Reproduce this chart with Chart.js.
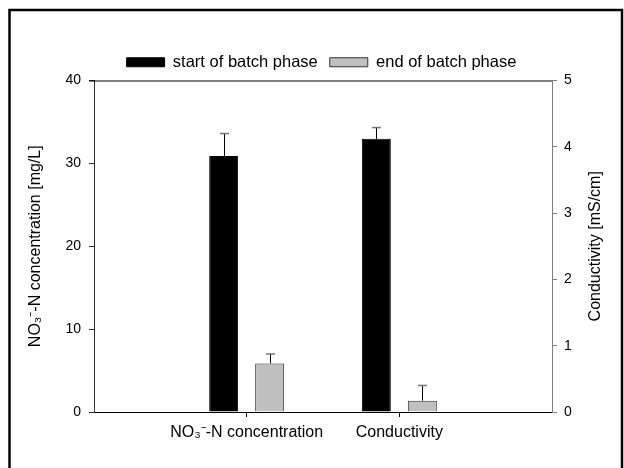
<!DOCTYPE html>
<html>
<head>
<meta charset="utf-8">
<script src="https://cdn.jsdelivr.net/npm/chart.js@4.4.1/dist/chart.umd.min.js"></script>
<style>
  html, body { margin: 0; padding: 0; background: #fff; }
  #wrap { width: 624px; height: 468px; }
</style>
</head>
<body>
<div id="wrap"><canvas id="chart" width="624" height="468"></canvas></div>
<script>
// categories (empty ends keep the two groups in the middle third)
const categories = ['', 'NO₃⁻-N concentration', 'Conductivity', ''];
const seriesNames = ['start of batch phase', 'end of batch phase'];

// NO3-N concentration [mg/L] -> left axis
const no3Start = [null, 30.9, null, null];
const no3End = [null, 5.85, null, null];
const no3StartErr = [null, 2.7, null, null];
const no3EndErr = [null, 1.15, null, null];

// conductivity [mS/cm] -> right axis
const condStart = [null, null, 4.12, null];
const condEnd = [null, null, 0.17, null];
const condStartErr = [null, null, 0.17, null];
const condEndErr = [null, null, 0.23, null];

const leftTicks = [0, 10, 20, 30, 40];
const rightTicks = [0, 1, 2, 3, 4, 5];
const rightTitle = 'Conductivity [mS/cm]';

const FONT = 'Liberation Sans, Arial, sans-serif';
Chart.defaults.font.family = FONT;
Chart.defaults.color = '#000';

// outer frame, top line of the plot box, right axis title (reads bottom-to-top)
const framePlugin = {
  id: 'frame',
  afterDraw(chart) {
    const c = chart.ctx, a = chart.chartArea;
    c.save();
    c.strokeStyle = '#000';
    c.lineWidth = 1;
    c.beginPath();
    c.moveTo(a.left - 5, a.top + 0.5);
    c.lineTo(a.right, a.top + 0.5);
    c.stroke();
    c.lineWidth = 2.5;
    c.strokeRect(9.5, 10, 612.5, 470);
    c.translate(596, (a.top + a.bottom) / 2);
    c.rotate(-Math.PI / 2);
    c.font = '16px ' + FONT;
    c.fillStyle = '#000';
    c.textAlign = 'center';
    c.textBaseline = 'middle';
    c.fillText(rightTitle, 0, 0);
    c.restore();
  }
};

// upward error bars
const errorPlugin = {
  id: 'errbars',
  afterDatasetsDraw(chart) {
    const c = chart.ctx;
    chart.data.datasets.forEach((ds, i) => {
      const meta = chart.getDatasetMeta(i);
      const scale = chart.scales[ds.yAxisID];
      meta.data.forEach((bar, j) => {
        const v = ds.data[j], e = ds.errors[j];
        if (v == null || e == null) return;
        const yTop = scale.getPixelForValue(v + e);
        const x = Math.round(bar.x) + 0.5;
        c.save();
        c.lineWidth = 1;
        c.strokeStyle = '#000';
        c.beginPath();
        c.moveTo(x, bar.y);
        c.lineTo(x, yTop);
        c.stroke();
        c.strokeStyle = '#777';
        c.lineWidth = 1.5;
        c.beginPath();
        c.moveTo(x - 4.5, yTop);
        c.lineTo(x + 4.5, yTop);
        c.stroke();
        c.restore();
      });
    });
  }
};

const hideEnds = (ctx) => (ctx.index === 0 || ctx.index === 3) ? 'rgba(0,0,0,0)' : '#000';

new Chart(document.getElementById('chart'), {
  type: 'bar',
  data: {
    labels: categories,
    datasets: [
      { label: seriesNames[0], data: no3Start, errors: no3StartErr, yAxisID: 'y',
        backgroundColor: '#000', borderColor: '#000', borderWidth: 1 },
      { label: seriesNames[1], data: no3End, errors: no3EndErr, yAxisID: 'y',
        backgroundColor: '#c0c0c0', borderColor: '#333', borderWidth: 1 },
      { label: seriesNames[0], data: condStart, errors: condStartErr, yAxisID: 'y2',
        backgroundColor: '#000', borderColor: '#000', borderWidth: 1 },
      { label: seriesNames[1], data: condEnd, errors: condEndErr, yAxisID: 'y2',
        backgroundColor: '#c0c0c0', borderColor: '#333', borderWidth: 1 }
    ]
  },
  options: {
    responsive: false,
    animation: false,
    skipNull: true,
    categoryPercentage: 0.6025,
    barPercentage: 0.63,
    layout: { padding: { left: 19, right: 0, top: 42, bottom: 0 } },
    plugins: {
      tooltip: { enabled: false },
      legend: {
        position: 'top',
        labels: {
          filter: (item) => item.datasetIndex < 2,
          boxWidth: 38,
          boxHeight: 9,
          padding: 12,
          font: { size: 16.5 },
          color: '#000'
        }
      }
    },
    scales: {
      x: {
        offset: false,
        grid: { offset: false, drawOnChartArea: false, tickLength: 5, color: hideEnds, tickColor: hideEnds },
        border: { color: '#000', width: 1 },
        ticks: { font: { size: 16 }, color: '#000', padding: 6, maxRotation: 0, autoSkip: false },
        afterFit(s) { s.height = 56; }
      },
      y: {
        position: 'left',
        min: 0, max: 40,
        afterBuildTicks(s) { s.ticks = leftTicks.map(v => ({ value: v })); },
        grid: { drawOnChartArea: false, tickLength: 5, color: '#333' },
        border: { color: '#333', width: 1 },
        ticks: { font: { size: 14 }, color: '#000', padding: 8 },
        title: { display: true, text: 'NO₃⁻-N concentration [mg/L]', font: { size: 16 },
                 color: '#000', padding: { top: 7, bottom: 0 } },
        afterFit(s) { s.width = 75; }
      },
      y2: {
        position: 'right',
        min: 0, max: 5,
        afterBuildTicks(s) { s.ticks = rightTicks.map(v => ({ value: v })); },
        grid: { drawOnChartArea: false, tickLength: 5, color: '#808080' },
        border: { color: '#808080', width: 1 },
        ticks: { font: { size: 14 }, color: '#000', padding: 7 },
        afterFit(s) { s.width = 72; }
      }
    }
  },
  plugins: [framePlugin, errorPlugin]
});
</script>
</body>
</html>
